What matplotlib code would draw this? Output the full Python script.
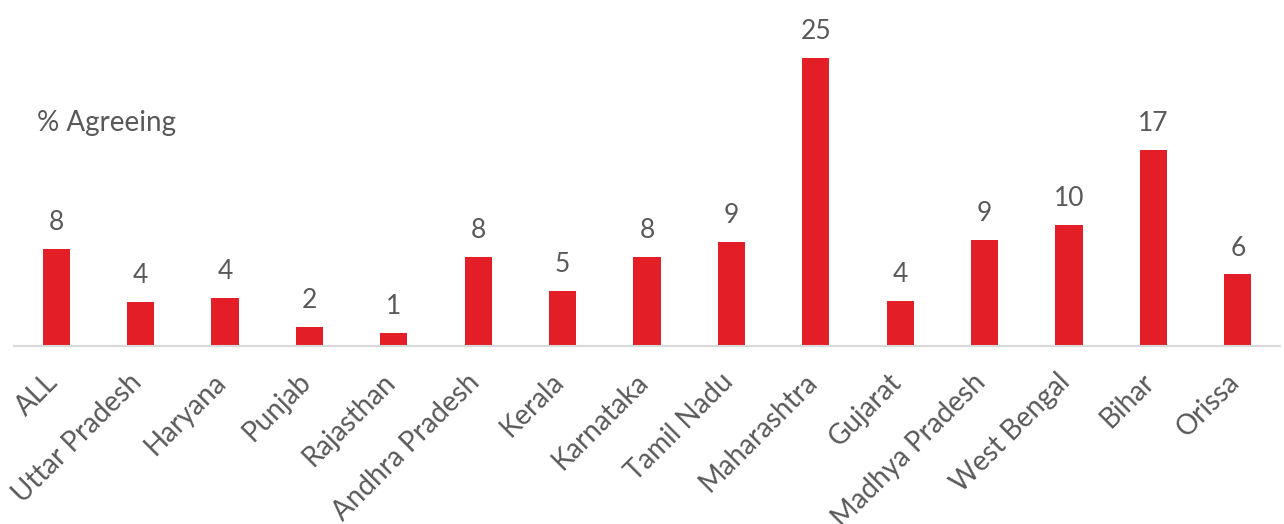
import matplotlib
matplotlib.use("Agg")
import matplotlib.pyplot as plt
from matplotlib.transforms import ScaledTranslation

states = ["ALL", "Uttar Pradesh", "Haryana", "Punjab", "Rajasthan", "Andhra Pradesh",
          "Kerala", "Karnataka", "Tamil Nadu", "Maharashtra", "Gujarat", "Madhya Pradesh",
          "West Bengal", "Bihar", "Orissa"]
values = [8.4, 3.8, 4.2, 1.65, 1.1, 7.7, 4.8, 7.7, 9.0, 25.0, 3.9, 9.2, 10.5, 17.0, 6.2]
labels = ["8", "4", "4", "2", "1", "8", "5", "8", "9", "25", "4", "9", "10", "17", "6"]

RED = "#E31E27"
GRAY = "#595959"
FONT = ["Lato", "DejaVu Sans"]

fig = plt.figure(figsize=(12.84, 5.24), dpi=100)
ax = fig.add_axes([14/1284, 178/524, 1266/1284, 346/524])
x = list(range(len(states)))
ax.bar(x, values, width=0.32, color=RED, zorder=2)
ax.set_xlim(-0.5, len(states) - 0.5)
ax.set_ylim(0, 30)
for xi, v, lab in zip(x, values, labels):
    ax.annotate(lab, (xi, v), xytext=(0, 10), textcoords="offset points",
                ha="center", va="bottom", fontsize=19, color=GRAY, family=FONT)
for s in ["top", "right", "left"]:
    ax.spines[s].set_visible(False)
ax.spines["bottom"].set_color("#D9D9D9")
ax.spines["bottom"].set_linewidth(1.5)
ax.set_yticks([])
ax.set_xticks(x)
ax.set_xticklabels(states, rotation=45, ha="right", rotation_mode="anchor",
                   fontsize=20, color=GRAY, family=FONT)
ax.tick_params(axis="x", length=0, pad=12)
off = ScaledTranslation(-12/100, -6/100, fig.dpi_scale_trans)
for t in ax.get_xticklabels():
    t.set_transform(t.get_transform() + off)
ax.text(0.018, 0.621, "% Agreeing", transform=ax.transAxes, fontsize=20,
        color=GRAY, family=FONT, ha="left", va="baseline")
fig.savefig("out.png", dpi=100)
